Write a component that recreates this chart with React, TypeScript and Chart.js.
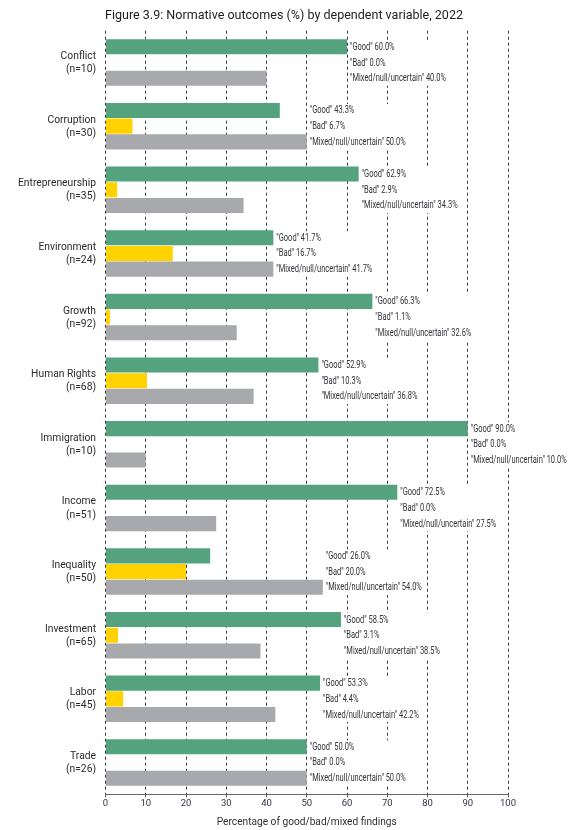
import { useEffect, useRef } from "react"
import { Chart, registerables } from "chart.js"

Chart.register(...registerables)

const TITLE = "Figure 3.9: Normative outcomes (%) by dependent variable, 2022"
const AXIS_TITLE = "Percentage of good/bad/mixed findings"

const CATEGORIES = [
  "Conflict",
  "Corruption",
  "Entrepreneurship",
  "Environment",
  "Growth",
  "Human Rights",
  "Immigration",
  "Income",
  "Inequality",
  "Investment",
  "Labor",
  "Trade",
]
const COUNTS = [10, 30, 35, 24, 92, 68, 10, 51, 50, 65, 45, 26]

const GOOD = [60.0, 43.3, 62.9, 41.7, 66.3, 52.9, 90.0, 72.5, 26.0, 58.5, 53.3, 50.0]
const BAD = [0.0, 6.7, 2.9, 16.7, 1.1, 10.3, 0.0, 0.0, 20.0, 3.1, 4.4, 0.0]
const MIXED = [40.0, 50.0, 34.3, 41.7, 32.6, 36.8, 10.0, 27.5, 54.0, 38.5, 42.2, 50.0]

const SERIES_NAMES = ['"Good"', '"Bad"', '"Mixed/null/uncertain"']
const COLORS = ["#55a27e", "#ffd200", "#a7a9ac"]

const FONT = "Roboto, 'Noto Sans', sans-serif"

// draws a text squeezed horizontally to imitate the condensed face of the original
function drawSqueezed(ctx: CanvasRenderingContext2D, text: string, x: number, y: number, sx: number) {
  ctx.save()
  ctx.translate(x, y)
  ctx.scale(sx, 1)
  ctx.fillText(text, 0, 0)
  ctx.restore()
}

const outcomeLabels = {
  id: "outcomeLabels",
  afterDatasetsDraw(chart: Chart) {
    const { ctx } = chart
    const xScale = chart.scales.x
    const metas = [0, 1, 2].map((i) => chart.getDatasetMeta(i))
    ctx.save()
    ctx.font = `10px ${FONT}`
    ctx.textBaseline = "middle"
    ctx.textAlign = "left"
    const sx = 96 / ctx.measureText('"Mixed/null/uncertain" 54.0%').width
    CATEGORIES.forEach((_, i) => {
      const vals = [GOOD[i], BAD[i], MIXED[i]]
      const barEnd = xScale.getPixelForValue(Math.max(...vals))
      const texts = vals.map((v, k) => `${SERIES_NAMES[k]} ${v.toFixed(1)}%`)
      const ys = metas.map((m) => (m.data[i] as any).y as number)
      const w = Math.max(...texts.map((t) => ctx.measureText(t).width * sx))
      ctx.fillStyle = "#ffffff"
      ctx.fillRect(barEnd + 1, ys[0] - 6.5, w + 4, ys[2] - ys[0] + 14)
      ctx.fillStyle = "#303339"
      texts.forEach((t, k) => drawSqueezed(ctx, t, barEnd + 3, ys[k] + 0.5, sx))
    })
    ctx.restore()
  },
  afterDraw(chart: Chart) {
    const { ctx, chartArea } = chart
    const yScale = chart.scales.y
    ctx.save()
    ctx.textBaseline = "middle"
    ctx.textAlign = "left"
    ctx.fillStyle = "#1e1e1e"
    ctx.font = `12.8px ${FONT}`
    const tsx = 358 / ctx.measureText(TITLE).width
    drawSqueezed(ctx, TITLE, 105, 15.5, tsx)

    ctx.fillStyle = "#2e2e2e"
    ctx.font = `11px ${FONT}`
    const asx = 180 / ctx.measureText(AXIS_TITLE).width
    const cx = (chartArea.left + chartArea.right) / 2
    drawSqueezed(ctx, AXIS_TITLE, cx - 90, 822, asx)

    // category names with their counts, right aligned left of the plot
    ctx.fillStyle = "#2a2a2a"
    ctx.font = `11px ${FONT}`
    ctx.textAlign = "right"
    const ysx = 78 / ctx.measureText("Entrepreneurship").width
    CATEGORIES.forEach((c, i) => {
      const y = yScale.getPixelForValue(i)
      drawSqueezed(ctx, c, 96, y - 6.3, ysx)
      drawSqueezed(ctx, `(n=${COUNTS[i]})`, 96, y + 6.8, ysx)
    })
    ctx.restore()
  },
}

export default function App() {
  const canvasRef = useRef<HTMLCanvasElement>(null)
  const chartRef = useRef<Chart | null>(null)

  useEffect(() => {
    document.body.style.margin = "0"
    if (!canvasRef.current) return
    chartRef.current = new Chart(canvasRef.current, {
      type: "bar",
      data: {
        labels: CATEGORIES,
        datasets: [GOOD, BAD, MIXED].map((d, k) => ({
          label: SERIES_NAMES[k],
          data: d,
          backgroundColor: COLORS[k],
          borderWidth: 0,
          categoryPercentage: 0.74,
          barPercentage: 0.96,
        })),
      },
      options: {
        indexAxis: "y",
        animation: false,
        responsive: true,
        maintainAspectRatio: false,
        layout: { padding: { top: 30.7, right: 71, bottom: 0, left: 0 } },
        plugins: {
          legend: { display: false },
          tooltip: { enabled: false },
          title: { display: false },
        },
        scales: {
          x: {
            min: 0,
            max: 100,
            ticks: { stepSize: 10, color: "#2f3542", font: { family: FONT, size: 9.5 }, padding: 1 },
            grid: {
              color: "#3a3a3a",
              lineWidth: 1,
              tickLength: 3,
              tickColor: "#555555",
              tickBorderDash: [],
            },
            border: { display: true, color: "#666666", width: 1, dash: [3, 3] },
            afterFit: (scale: any) => {
              scale.height = 35.7
            },
          },
          y: {
            grid: { display: false },
            border: { display: false },
            ticks: { display: false },
            afterFit: (scale: any) => {
              scale.width = 105.5
            },
          },
        },
      },
      plugins: [outcomeLabels],
    })
    return () => {
      chartRef.current?.destroy()
      chartRef.current = null
    }
  }, [])

  return (
    <div style={{ width: 579, height: 830, position: "relative" }}>
      <canvas ref={canvasRef} />
    </div>
  )
}
